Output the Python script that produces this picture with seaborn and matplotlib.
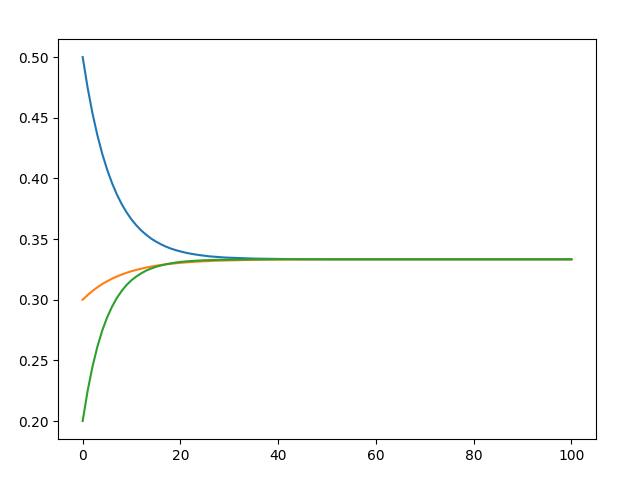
import matplotlib
matplotlib.use("Agg")
import matplotlib.pyplot as plt
import seaborn as sns
import pandas as pd

steps = list(range(0, 31)) + [35, 40, 45, 50, 60, 70, 80, 90, 100]

state_a = [0.5000, 0.4750, 0.4537, 0.4357, 0.4203, 0.4073, 0.3962, 0.3867, 0.3787, 0.3719,
           0.3661, 0.3612, 0.3570, 0.3535, 0.3504, 0.3479, 0.3457, 0.3438, 0.3422, 0.3409,
           0.3398, 0.3388, 0.3380, 0.3373, 0.3367, 0.3362, 0.3357, 0.3354, 0.3351, 0.3348,
           0.3346, 0.3339, 0.3336, 0.3334, 0.3333, 0.3333, 0.3333, 0.3333, 0.3333, 0.3333]

state_b = [0.3000, 0.3038, 0.3072, 0.3102, 0.3129, 0.3152, 0.3173, 0.3191, 0.3208, 0.3222,
           0.3235, 0.3246, 0.3256, 0.3265, 0.3273, 0.3280, 0.3286, 0.3291, 0.3296, 0.3300,
           0.3304, 0.3307, 0.3310, 0.3313, 0.3315, 0.3317, 0.3319, 0.3321, 0.3322, 0.3323,
           0.3324, 0.3329, 0.3331, 0.3332, 0.3333, 0.3333, 0.3333, 0.3333, 0.3333, 0.3333]

state_c = [0.2000, 0.2246, 0.2447, 0.2611, 0.2745, 0.2854, 0.2942, 0.3015, 0.3073, 0.3122,
           0.3161, 0.3192, 0.3218, 0.3240, 0.3257, 0.3271, 0.3282, 0.3292, 0.3299, 0.3306,
           0.3311, 0.3315, 0.3318, 0.3321, 0.3323, 0.3325, 0.3326, 0.3328, 0.3329, 0.3329,
           0.3330, 0.3332, 0.3333, 0.3333, 0.3333, 0.3333, 0.3333, 0.3333, 0.3333, 0.3333]

series_names = ["A", "B", "C"]
colors = ["#1f77b4", "#ff7f0e", "#2ca02c"]

rows = []
for name, vals in zip(series_names, [state_a, state_b, state_c]):
    for s, v in zip(steps, vals):
        rows.append({"step": s, "prob": v, "state": name})
df = pd.DataFrame(rows)

fig, ax = plt.subplots(figsize=(6.4, 4.8), dpi=100)
fig.subplots_adjust(left=0.091, right=0.931, top=0.919, bottom=0.085)
sns.lineplot(data=df, x="step", y="prob", hue="state", palette=colors,
             legend=False, ax=ax, linewidth=1.5)
ax.set_xlabel("")
ax.set_ylabel("")
ax.set_xticks([0, 20, 40, 60, 80, 100])
ax.set_yticks([0.20, 0.25, 0.30, 0.35, 0.40, 0.45, 0.50])
ax.set_yticklabels(["0.20", "0.25", "0.30", "0.35", "0.40", "0.45", "0.50"])
fig.savefig("out.png", dpi=100)
